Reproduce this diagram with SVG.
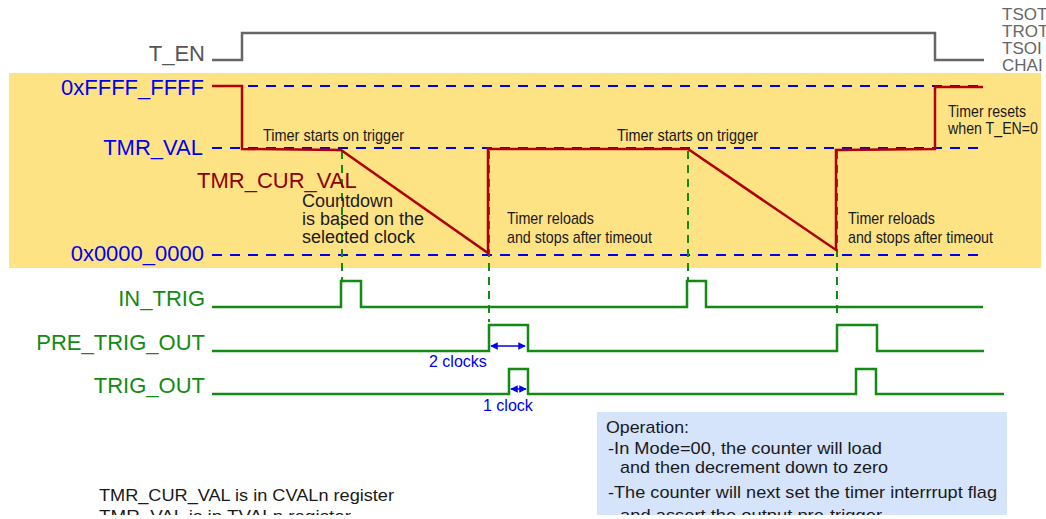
<svg xmlns="http://www.w3.org/2000/svg" width="1046" height="519" viewBox="0 0 1046 519">
<style>
.lbl{font-family:"Liberation Sans",Arial,sans-serif;font-size:22px}
.gray{fill:#555}
.blue{fill:#0000f0}
.green{fill:#138a13}
.red{fill:#8b0000}
.note{font-family:"Liberation Sans",Arial,sans-serif;font-size:17px;fill:#1a1a1a}
.ann{font-family:"Liberation Sans",Arial,sans-serif;font-size:18px;fill:#1a1a1a}
.small{font-family:"Liberation Sans",Arial,sans-serif;font-size:16px}
.side{font-family:"Liberation Sans",Arial,sans-serif;font-size:17px;fill:#666}
.sig{fill:none;stroke:#138a13;stroke-width:2.5}
.guide{fill:none;stroke:#0000f0;stroke-width:2;stroke-dasharray:10 8}
.vguide{fill:none;stroke:#138a13;stroke-width:2;stroke-dasharray:8 6}
.wave{fill:none;stroke:#b00000;stroke-width:2.5;stroke-linejoin:miter}
.dim{fill:none;stroke:#0000f0;stroke-width:1.5}
</style>
<defs>
<marker id="ah" viewBox="0 0 10 10" refX="9" refY="5" markerWidth="5" markerHeight="5" orient="auto-start-reverse" markerUnits="strokeWidth">
<path d="M0,0 L10,5 L0,10 z" fill="#0000f0"/>
</marker>
</defs>
<rect width="1046" height="519" fill="#ffffff"/>
<rect id="band" x="9" y="73" width="1032" height="195" fill="#fee384"/>

<g id="t_en">
<text class="lbl gray" x="205" y="61" text-anchor="end">T_EN</text>
<path d="M212,60 H242 V33 H935 V60 H984" fill="none" stroke="#666" stroke-width="2.5"/>
</g>
<g id="side-labels">
<text class="side" x="1002" y="20">TSOT</text>
<text class="side" x="1002" y="37">TROT</text>
<text class="side" x="1002" y="54">TSOI</text>
<text class="side" x="1002" y="71">CHAI</text>
</g>

<g id="levels">
<text class="lbl blue" x="204" y="95" text-anchor="end">0xFFFF_FFFF</text>
<text class="lbl blue" x="203" y="155" text-anchor="end">TMR_VAL</text>
<text class="lbl blue" x="204" y="261" text-anchor="end">0x0000_0000</text>
</g>

<g id="connectors">
<path class="guide" d="M212,86 H983"/>
<path class="guide" d="M212,148 H983"/>
<path class="guide" d="M212,255 H983"/>
<path class="vguide" d="M342,151 V282"/>
<path class="vguide" d="M489,151 V322"/>
<path class="vguide" d="M688,151 V282"/>
<path class="vguide" d="M837,151 V316"/>
</g>

<g id="tmr_cur_val">
<text class="lbl red" x="197" y="188">TMR_CUR_VAL</text>
<path class="wave" d="M212,86 H242 V149 L341,150 L488,253 V149 H688 L836,250 V150 L935,149 V87 H983"/>
</g>

<g id="annotations">
<text class="note" x="263" y="141" textLength="141" lengthAdjust="spacingAndGlyphs">Timer starts on trigger</text>
<text class="note" x="617" y="141" textLength="141" lengthAdjust="spacingAndGlyphs">Timer starts on trigger</text>
<text class="note" x="948" y="117" textLength="78" lengthAdjust="spacingAndGlyphs">Timer resets</text>
<text class="note" x="948" y="134" textLength="90" lengthAdjust="spacingAndGlyphs">when T_EN=0</text>
<text class="note" x="507" y="224" textLength="87" lengthAdjust="spacingAndGlyphs">Timer reloads</text>
<text class="note" x="507" y="243" textLength="145" lengthAdjust="spacingAndGlyphs">and stops after timeout</text>
<text class="note" x="848" y="224" textLength="87" lengthAdjust="spacingAndGlyphs">Timer reloads</text>
<text class="note" x="848" y="243" textLength="145" lengthAdjust="spacingAndGlyphs">and stops after timeout</text>
<text class="ann" x="302" y="207">Countdown</text>
<text class="ann" x="302" y="225">is based on the</text>
<text class="ann" x="302" y="243">selected clock</text>
</g>

<g id="in_trig">
<text class="lbl green" x="205" y="306" text-anchor="end">IN_TRIG</text>
<path class="sig" d="M212,307 H341 V281 H361 V307 H687 V281 H706 V307 H983"/>
</g>
<g id="pre_trig_out">
<text class="lbl green" x="205" y="350" text-anchor="end">PRE_TRIG_OUT</text>
<path class="sig" d="M212,351 H489 V325 H528 V351 H837 V325 H877 V351 H984"/>
</g>
<g id="trig_out">
<text class="lbl green" x="205" y="393" text-anchor="end">TRIG_OUT</text>
<path class="sig" d="M212,394 H509 V369 H528 V394 H856 V369 H876 V394 H1004"/>
</g>

<g id="dimensions">
<path class="dim" d="M491,346 H525" marker-start="url(#ah)" marker-end="url(#ah)"/>
<text class="small blue" x="429" y="367">2 clocks</text>
<path class="dim" d="M511,389 H526" marker-start="url(#ah)" marker-end="url(#ah)"/>
<text class="small blue" x="483" y="411">1 clock</text>
</g>

<g id="operation">
<rect x="597" y="412" width="410" height="110" fill="#d5e3fb"/>
<text class="note" x="606" y="433" textLength="83" lengthAdjust="spacingAndGlyphs">Operation:</text>
<text class="note" x="608" y="454" textLength="274" lengthAdjust="spacingAndGlyphs">-In Mode=00, the counter will load</text>
<text class="note" x="620" y="473" textLength="268" lengthAdjust="spacingAndGlyphs">and then decrement down to zero</text>
<text class="note" x="608" y="498" textLength="389" lengthAdjust="spacingAndGlyphs">-The counter will next set the timer interrrupt flag</text>
<text class="note" x="620" y="521" textLength="262" lengthAdjust="spacingAndGlyphs">and assert the output pre-trigger</text>
</g>

<g id="register-notes">
<text class="note" x="99" y="501" textLength="295" lengthAdjust="spacingAndGlyphs">TMR_CUR_VAL is in CVALn register</text>
<text class="note" x="99" y="522" textLength="252" lengthAdjust="spacingAndGlyphs">TMR_VAL is in TVALn register</text>
</g>
<rect x="0" y="515" width="1046" height="4" fill="#ffffff"/>
</svg>
